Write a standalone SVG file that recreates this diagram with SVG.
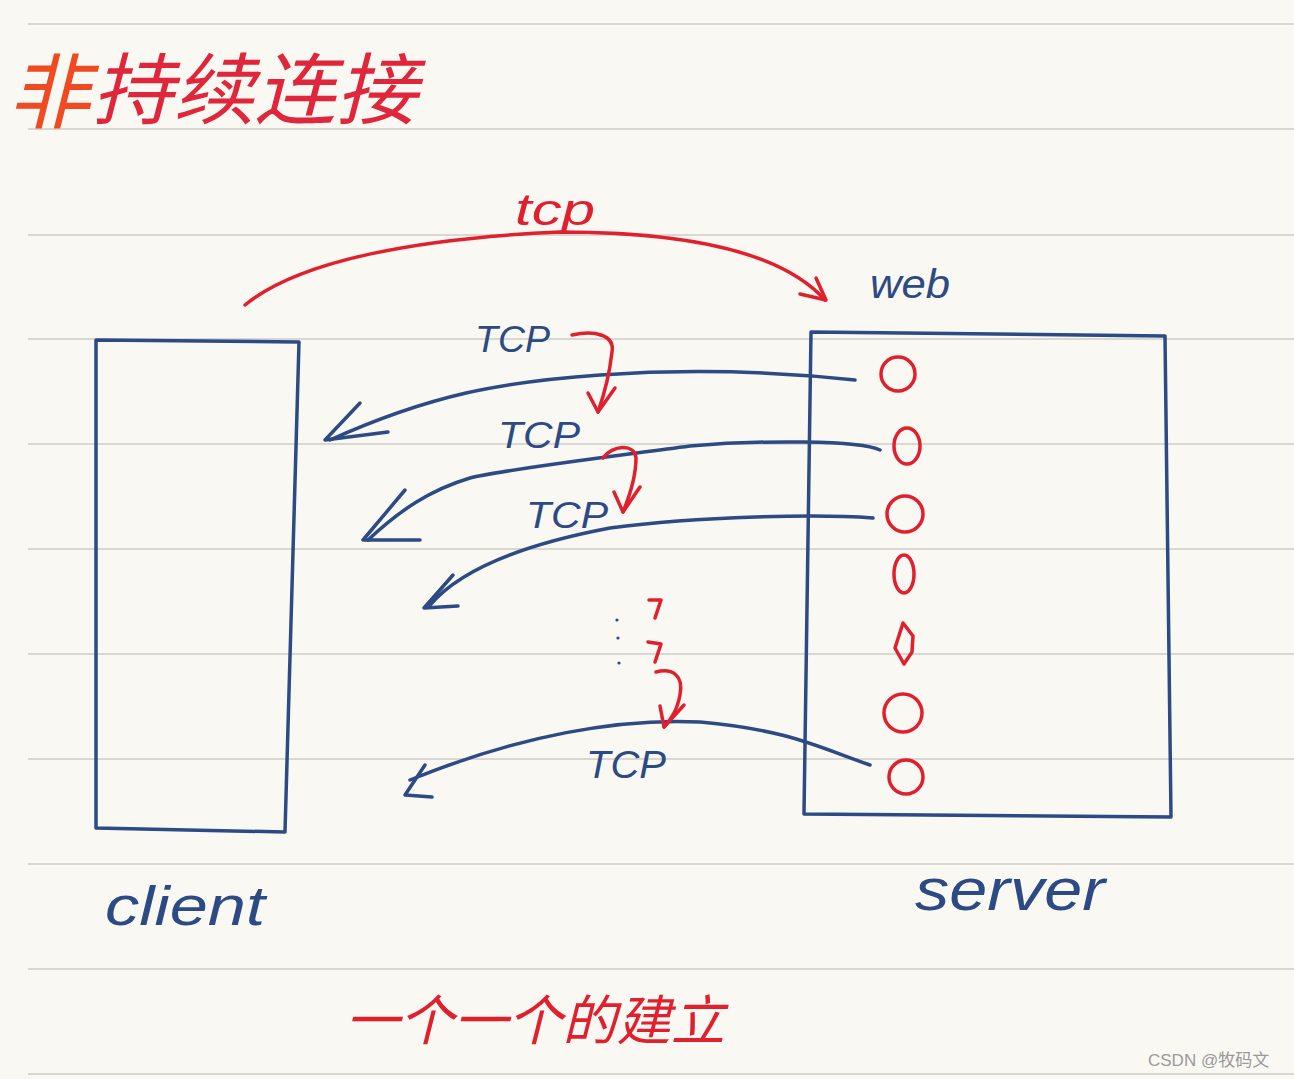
<svg xmlns="http://www.w3.org/2000/svg" width="1294" height="1079" viewBox="0 0 1294 1079">
<style>
.rule{stroke:#d9d7d2;stroke-width:2}
.blue{fill:none;stroke:#2c4a84;stroke-width:3.5;stroke-linecap:round;stroke-linejoin:round}
.red{fill:none;stroke:#e0202e;stroke-width:3.5;stroke-linecap:round;stroke-linejoin:round}
.bt{fill:#2c4a84;font-family:"Liberation Sans","DejaVu Sans",sans-serif;font-style:italic}
.rt{fill:#e0202e;font-family:"Liberation Sans","DejaVu Sans",sans-serif;font-style:italic}
.cjk{font-family:"Noto Sans CJK SC","Noto Sans",sans-serif}
</style>
<rect width="1294" height="1079" fill="#faf8f3"/>
<g id="rules">
<line class="rule" x1="28" y1="24" x2="1294" y2="24"/>
<line class="rule" x1="28" y1="129" x2="1294" y2="129"/>
<line class="rule" x1="28" y1="235" x2="1294" y2="235"/>
<line class="rule" x1="28" y1="339" x2="1294" y2="339"/>
<line class="rule" x1="28" y1="444" x2="1294" y2="444"/>
<line class="rule" x1="28" y1="549" x2="1294" y2="549"/>
<line class="rule" x1="28" y1="654" x2="1294" y2="654"/>
<line class="rule" x1="28" y1="759" x2="1294" y2="759"/>
<line class="rule" x1="28" y1="864" x2="1294" y2="864"/>
<line class="rule" x1="28" y1="969" x2="1294" y2="969"/>
<line class="rule" x1="28" y1="1074" x2="1294" y2="1074"/>
</g>
<g id="title">
<text x="8" y="122" font-size="82" fill="#f04a22" class="cjk" font-style="italic">非</text>
<text x="92" y="118" font-size="78" fill="#e0263a" class="cjk" font-style="italic" textLength="325" lengthAdjust="spacingAndGlyphs">持续连接</text>
</g>
<g id="client">
<path class="blue" d="M96,340 L299,342 L285,832 L96,828 Z"/>
<text class="bt" x="105" y="925" font-size="56" textLength="160" lengthAdjust="spacingAndGlyphs">client</text>
</g>
<g id="server">
<path class="blue" d="M811,332 L1165,336 L1171,817 L804,814 Z"/>
<text class="bt" x="915" y="910" font-size="60" textLength="190" lengthAdjust="spacingAndGlyphs">server</text>
<text class="bt" x="870" y="298" font-size="40" textLength="80" lengthAdjust="spacingAndGlyphs">web</text>
</g>
<g id="sockets">
<circle class="red" cx="898" cy="374" r="17"/>
<ellipse class="red" cx="907" cy="446" rx="13" ry="18"/>
<circle class="red" cx="905" cy="514" r="18"/>
<ellipse class="red" cx="904" cy="574" rx="10" ry="19"/>
<path class="red" d="M903,623 L913,636 L912,652 L904,664 L895,648 Z"/>
<circle class="red" cx="903" cy="713" r="19"/>
<circle class="red" cx="906" cy="777" r="17"/>
</g>
<g id="connectors">
<path class="red" d="M245,305 C300,260 420,238 560,232 C680,232 780,250 825,300"/>
<path class="red" d="M800,294 L826,300 L816,278"/>
<path class="blue" d="M855,380 C780,372 700,368 600,375 C500,382 430,395 330,440"/>
<path class="blue" d="M360,403 L325,440 L388,432"/>
<path class="blue" d="M880,450 C860,440 760,440 690,446 C600,458 500,470 470,478 C430,490 400,510 368,540"/>
<path class="blue" d="M405,490 L363,540 L420,540"/>
<path class="blue" d="M873,518 C820,514 700,516 610,528 C520,545 460,570 430,605"/>
<path class="blue" d="M453,575 L424,608 L458,606"/>
<path class="blue" d="M870,765 C820,748 790,730 700,722 C620,718 520,735 410,780"/>
<path class="blue" d="M425,765 L405,795 L432,797"/>
<path class="red" d="M572,335 C595,330 615,335 612,352 C610,370 604,395 598,412"/>
<path class="red" d="M588,393 L598,412 L615,388"/>
<path class="red" d="M603,458 C612,445 635,443 636,458 C636,475 630,495 623,512"/>
<path class="red" d="M614,492 L623,512 L640,487"/>
<path class="red" d="M649,600 L661,600 L655,618"/>
<path class="red" d="M648,642 L661,644 L655,662"/>
<path class="red" d="M656,672 C672,668 684,675 680,695 C677,710 672,718 664,727"/>
<path class="red" d="M660,706 L664,727 L684,705"/>
<g fill="#2c4a84">
<circle cx="617" cy="620" r="1.6"/>
<circle cx="618" cy="638" r="1.6"/>
<circle cx="619" cy="663" r="1.6"/>
</g>
</g>
<g id="labels">
<text class="rt" x="515" y="225" font-size="44" textLength="80" lengthAdjust="spacingAndGlyphs">tcp</text>
<text class="bt" x="475" y="352" font-size="36" textLength="75" lengthAdjust="spacingAndGlyphs">TCP</text>
<text class="bt" x="498" y="448" font-size="36" textLength="82" lengthAdjust="spacingAndGlyphs">TCP</text>
<text class="bt" x="526" y="528" font-size="36" textLength="82" lengthAdjust="spacingAndGlyphs">TCP</text>
<text class="bt" x="586" y="778" font-size="38" textLength="80" lengthAdjust="spacingAndGlyphs">TCP</text>
</g>
<g id="footer">
<text x="345" y="1040" font-size="54" fill="#e0202e" class="cjk" font-style="italic" textLength="380" lengthAdjust="spacingAndGlyphs">一个一个的建立</text>
<text x="1148" y="1066" font-size="17" fill="#9a9a9a" font-family="Liberation Sans,Noto Sans CJK SC,sans-serif">CSDN @牧码文</text>
</g>
</svg>
